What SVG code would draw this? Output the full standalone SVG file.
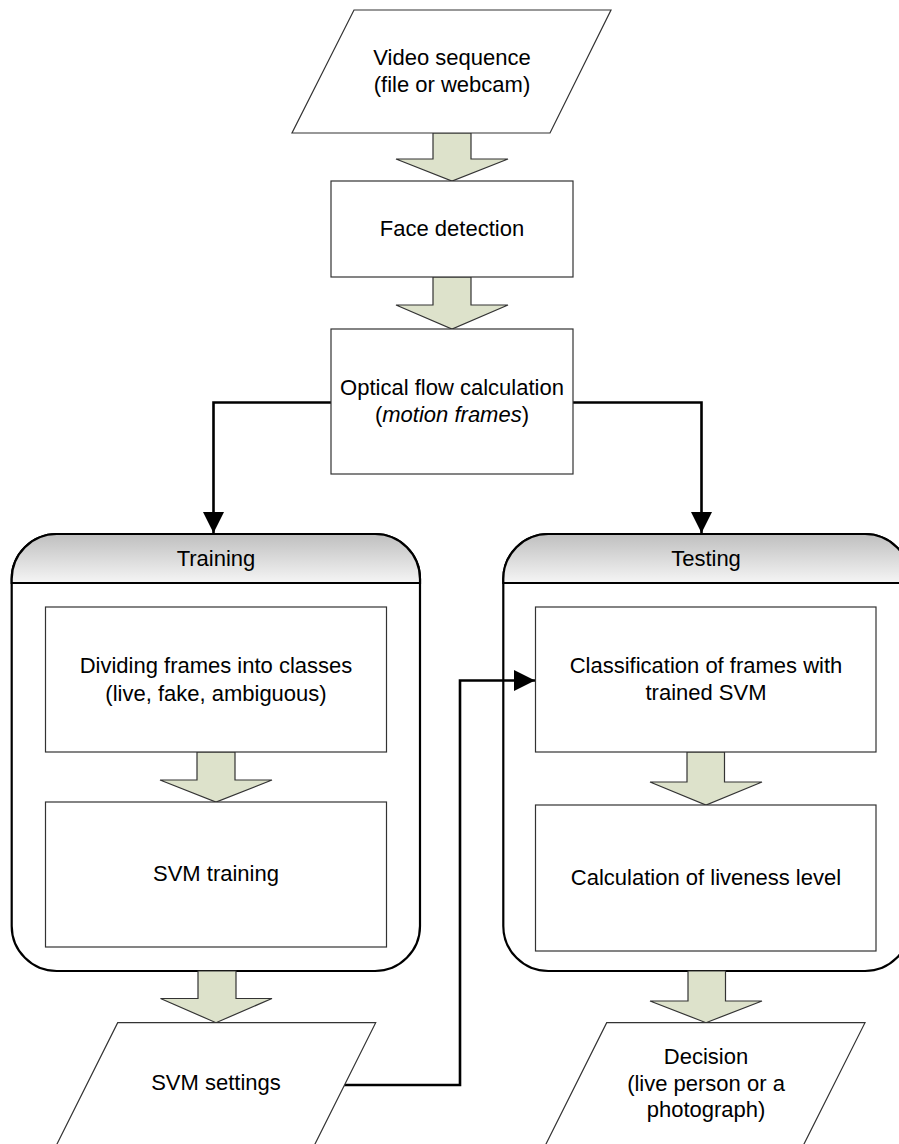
<svg xmlns="http://www.w3.org/2000/svg" width="899" height="1144" viewBox="0 0 899 1144">
<style>
.t{font-family:"Liberation Sans",Arial,sans-serif;font-size:22px;fill:#000;text-anchor:middle}
.box{fill:#fff;stroke:#333;stroke-width:1.2}
.blk{fill:#dde2cb;stroke:#333;stroke-width:1.2}
.cont{fill:#fff;stroke:#000;stroke-width:2.2}
.hdr{fill:url(#hg);stroke:#000;stroke-width:2.2}
.con{fill:none;stroke:#000;stroke-width:2.6}
</style>
<defs>
<linearGradient id="hg" x1="0" y1="0" x2="0" y2="1">
<stop offset="0" stop-color="#bfbfbf"/>
<stop offset="1" stop-color="#f5f5f5"/>
</linearGradient>
<marker id="ah" viewBox="0 0 10 10" refX="10" refY="5" markerWidth="8" markerHeight="8" markerUnits="userSpaceOnUse" orient="auto">
<path d="M0,0 L10,5 L0,10 Z" fill="#000"/>
</marker>
<marker id="ah2" viewBox="0 0 10 10" refX="10" refY="5" markerWidth="21" markerHeight="21" markerUnits="userSpaceOnUse" orient="auto">
<path d="M0,0 L10,5 L0,10 Z" fill="#000"/>
</marker>
</defs>

<g id="container-training">
<path class="cont" d="M11.7,579 A45,45 0 0 1 56.7,534 L375,534 A45,45 0 0 1 420,579 L420,926 A45,45 0 0 1 375,971 L56.7,971 A45,45 0 0 1 11.7,926 Z"/>
<path class="hdr" d="M11.7,583 L11.7,579 A45,45 0 0 1 56.7,534 L375,534 A45,45 0 0 1 420,579 L420,583 Z"/>
<text class="t" x="216" y="566">Training</text>
</g>
<g id="container-testing">
<path class="cont" d="M503.3,579 A45,45 0 0 1 548.3,534 L865,534 A45,45 0 0 1 910,579 L910,926 A45,45 0 0 1 865,971 L548.3,971 A45,45 0 0 1 503.3,926 Z"/>
<path class="hdr" d="M503.3,583 L503.3,579 A45,45 0 0 1 548.3,534 L865,534 A45,45 0 0 1 910,579 L910,583 Z"/>
<text class="t" x="706" y="566">Testing</text>
</g>

<g id="connectors">
<path class="con" d="M331,402.5 L213.5,402.5 L213.5,533" marker-end="url(#ah2)"/>
<path class="con" d="M573,402.5 L701.5,402.5 L701.5,533" marker-end="url(#ah2)"/>
<path class="con" d="M343,1085 L460,1085 L460,680.5 L535,680.5" marker-end="url(#ah2)"/>
<path class="blk" d="M433,133 L471,133 L471,159 L508,159 L452,181 L396,159 L433,159 Z"/>
<path class="blk" d="M433,277 L471,277 L471,305 L508,305 L452,329 L396,305 L433,305 Z"/>
<path class="blk" d="M197,752 L235,752 L235,780 L272,780 L216,802 L160,780 L197,780 Z"/>
<path class="blk" d="M198,971 L236,971 L236,998.5 L272,998.5 L216,1022.7 L160.5,998.5 L198,998.5 Z"/>
<path class="blk" d="M687,752 L724.5,752 L724.5,782 L762,782 L706,805 L650,782 L687,782 Z"/>
<path class="blk" d="M688,971 L725.5,971 L725.5,1001 L762,1001 L706,1022.7 L650,1001 L688,1001 Z"/>
</g>

<g id="video-sequence">
<path class="box" d="M354,10 L611,10 L550,133 L292,133 Z"/>
<text class="t" x="452" y="65">Video sequence</text>
<text class="t" x="452" y="92">(file or webcam)</text>
</g>
<g id="face-detection">
<rect class="box" x="331" y="181" width="242" height="96"/>
<text class="t" x="452" y="236">Face detection</text>
</g>
<g id="optical-flow">
<rect class="box" x="331" y="329" width="242" height="145"/>
<text class="t" x="452" y="395">Optical flow calculation</text>
<text class="t" x="452" y="422">(<tspan font-style="italic">motion frames</tspan>)</text>
</g>
<g id="dividing-frames">
<rect class="box" x="45.5" y="607" width="341" height="145"/>
<text class="t" x="216" y="673">Dividing frames into classes</text>
<text class="t" x="216" y="701">(live, fake, ambiguous)</text>
</g>
<g id="svm-training">
<rect class="box" x="45.5" y="802" width="341" height="145"/>
<text class="t" x="216" y="881">SVM training</text>
</g>
<g id="classification">
<rect class="box" x="535.5" y="607" width="340.5" height="145"/>
<text class="t" x="706" y="673">Classification of frames with</text>
<text class="t" x="706" y="700">trained SVM</text>
</g>
<g id="liveness">
<rect class="box" x="535.5" y="805" width="340.5" height="146"/>
<text class="t" x="706" y="885">Calculation of liveness level</text>
</g>
<g id="svm-settings">
<path class="box" d="M117.7,1022.7 L375.7,1022.7 L314,1146 L56,1146 Z"/>
<text class="t" x="216" y="1090">SVM settings</text>
</g>
<g id="decision">
<path class="box" d="M606.7,1022.7 L865,1022.7 L803,1146 L545,1146 Z"/>
<text class="t" x="706" y="1064">Decision</text>
<text class="t" x="706" y="1091">(live person or a</text>
<text class="t" x="706" y="1117">photograph)</text>
</g>
</svg>
